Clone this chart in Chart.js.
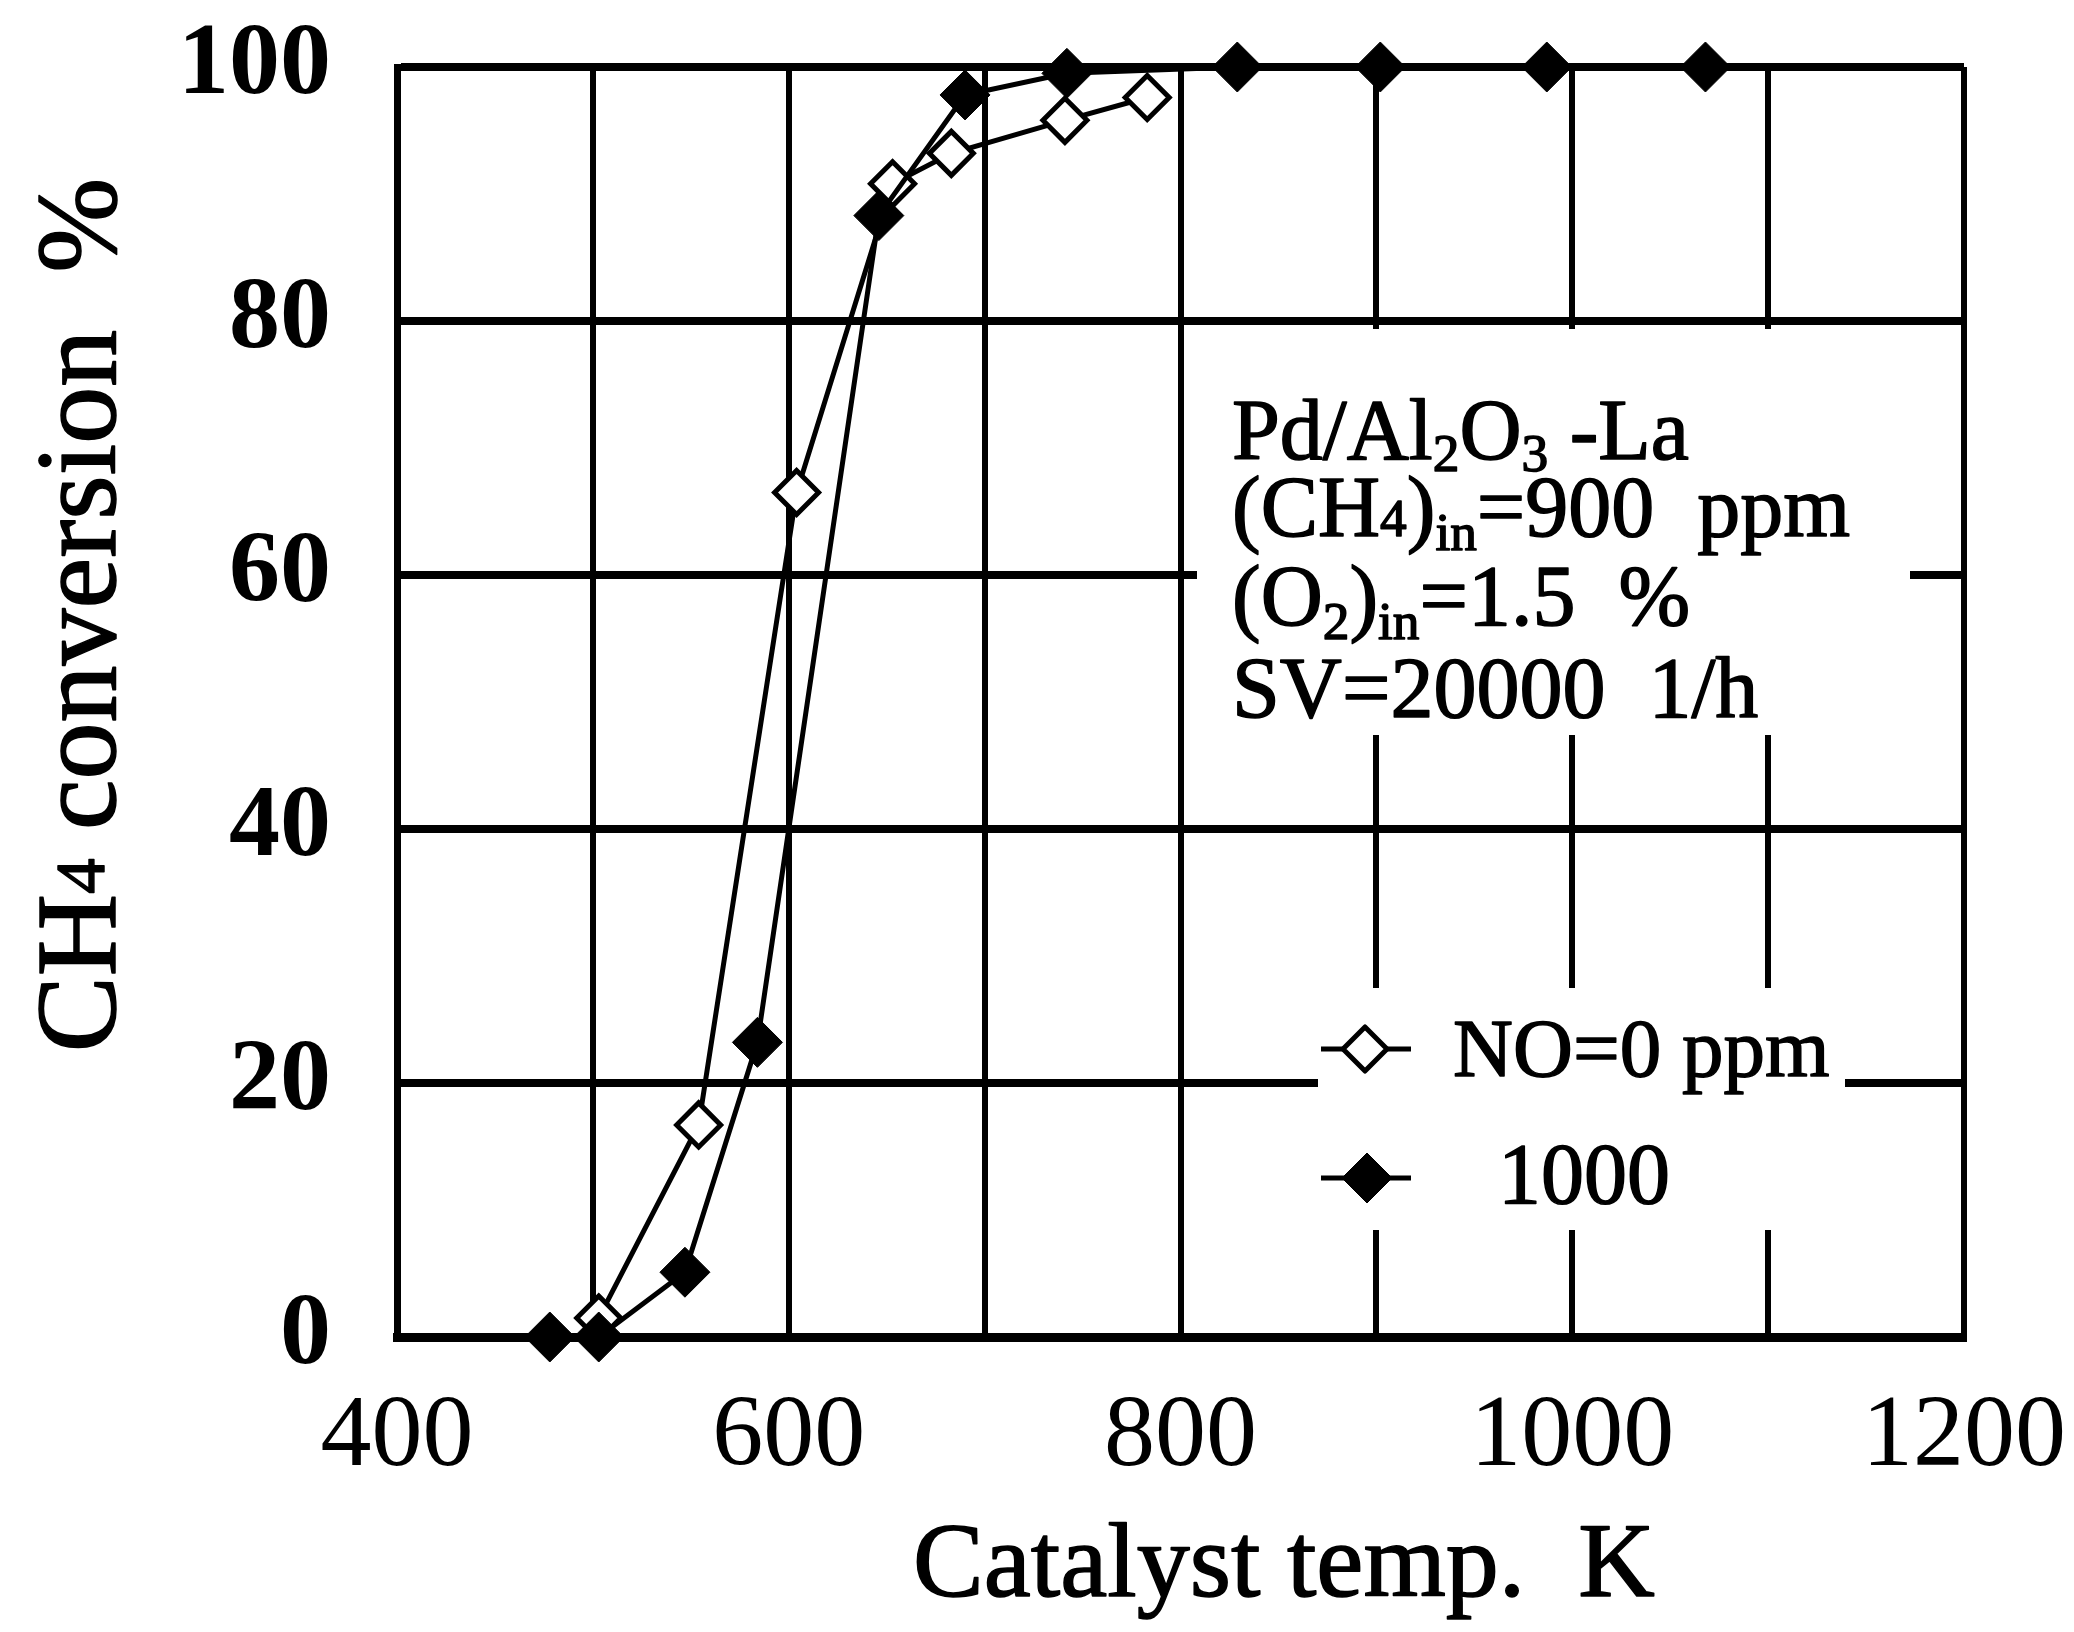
<!DOCTYPE html>
<html>
<head>
<meta charset="utf-8">
<script src="https://cdn.jsdelivr.net/npm/chart.js@4/dist/chart.umd.min.js"></script>
<style>
    html, body { margin: 0; padding: 0; background: #fff; }
    #contenedor { width: 2074px; height: 1632px; }
</style>
</head>
<body>
<div id="contenedor"><canvas id="grafica"></canvas></div>
<script>
// NO = 0 ppm (open diamonds)
const tempSinNO = [503, 554, 604, 653, 683, 741, 783];
const convSinNO = [1.5, 16.7, 66.5, 90.8, 93.2, 95.8, 97.6];

// NO = 1000 ppm (filled diamonds)
const tempConNO = [478, 503, 547, 584, 646, 690, 742, 829, 902, 987, 1068];
const convConNO = [0, 0, 5.1, 23.2, 88.3, 97.8, 99.5, 100, 100, 100, 100];

const ticksX = [400, 600, 800, 1000, 1200];
const ticksY = [0, 20, 40, 60, 80, 100];

const etiquetas = ["NO=0 ppm", "1000"];

const fuente = "\"Liberation Serif\", \"DejaVu Serif\", serif";

function puntos(xs, ys) {
    return xs.map((x, i) => ({ x: x, y: ys[i] }));
}

function textoRico(ctx, partes, x, y, size) {
    let cursor = x;
    partes.forEach((parte) => {
        const escala = parte.sub ? 0.62 : 1;
        ctx.font = (size * escala) + "px " + fuente;
        ctx.strokeText(parte.t, cursor, y + (parte.dy || 0) * size);
        ctx.fillText(parte.t, cursor, y + (parte.dy || 0) * size);
        cursor += ctx.measureText(parte.t).width;
    });
    return cursor - x;
}

function anchoRico(ctx, partes, size) {
    let ancho = 0;
    partes.forEach((parte) => {
        const escala = parte.sub ? 0.62 : 1;
        ctx.font = (size * escala) + "px " + fuente;
        ancho += ctx.measureText(parte.t).width;
    });
    return ancho;
}

function rombo(ctx, x, y, r, relleno, grosor) {
    ctx.beginPath();
    ctx.moveTo(x - r, y);
    ctx.lineTo(x, y - r);
    ctx.lineTo(x + r, y);
    ctx.lineTo(x, y + r);
    ctx.closePath();
    ctx.fillStyle = relleno;
    ctx.fill();
    ctx.lineWidth = grosor;
    ctx.strokeStyle = "#000";
    ctx.stroke();
}

const anotaciones = {
    id: "anotaciones",
    beforeDatasetsDraw(chart) {
        const { ctx, chartArea } = chart;
        const l = chartArea.left;
        const t = chartArea.top;
        ctx.save();
        ctx.fillStyle = "#fff";
        // white box behind the conditions text
        ctx.fillRect(l + 800, t + 262, 713, 406);
        // white box behind the legend
        ctx.fillRect(l + 921, t + 921, 527, 242);
        ctx.restore();
    },
    afterDraw(chart) {
        const { ctx, chartArea } = chart;
        const l = chartArea.left;
        const t = chartArea.top;
        const b = chartArea.bottom;
        ctx.save();
        ctx.fillStyle = "#000";
        ctx.strokeStyle = "#000";
        ctx.lineWidth = 1.5;
        ctx.lineJoin = "round";
        ctx.textBaseline = "alphabetic";
        ctx.textAlign = "left";

        const tam = 86;
        const lineas = [
            [{ t: "Pd/Al" }, { t: "2", sub: true, dy: 0.14 }, { t: "O" }, { t: "3", sub: true, dy: 0.14 }, { t: " -La" }],
            [{ t: "(CH" }, { t: "4", sub: true }, { t: ")" }, { t: "in", sub: true, dy: 0.16 }, { t: "=900  ppm" }],
            [{ t: "(O" }, { t: "2", sub: true, dy: 0.16 }, { t: ")" }, { t: "in", sub: true, dy: 0.16 }, { t: "=1.5  %" }],
            [{ t: "SV=20000  1/h" }]
        ];
        const baseLineas = [392, 469, 558, 650];
        lineas.forEach((linea, i) => {
            textoRico(ctx, linea, l + 835, t + baseLineas[i], tam);
        });

        // legend
        const filas = [t + 982, t + 1111];
        ctx.lineWidth = 5;
        filas.forEach((fy) => {
            ctx.beginPath();
            ctx.moveTo(l + 924, fy);
            ctx.lineTo(l + 1014, fy);
            ctx.stroke();
        });
        rombo(ctx, l + 968, filas[0], 22, "#fff", 5);
        rombo(ctx, l + 970, filas[1], 25, "#000", 1);
        ctx.fillStyle = "#000";
        ctx.lineWidth = 1.5;
        textoRico(ctx, [{ t: etiquetas[0] }], l + 1056, filas[0] + 27, 83);
        textoRico(ctx, [{ t: etiquetas[1] }], l + 1101, filas[1] + 25, 86);

        // x axis title
        textoRico(ctx, [{ t: "Catalyst temp.  K" }], l + 516, b + 259, 106);

        // y axis title, rotated
        const partesY = [{ t: "CH" }, { t: "4", sub: true, dy: -0.1 }, { t: " conversion  %" }];
        const tamY = 114;
        const anchoY = anchoRico(ctx, partesY, tamY);
        ctx.translate(115, 615);
        ctx.rotate(-Math.PI / 2);
        textoRico(ctx, partesY, -anchoY / 2, 0, tamY);
        ctx.restore();
    }
};

const ctxGrafica = document.getElementById("grafica");
new Chart(ctxGrafica, {
    type: "line",
    data: {
        datasets: [
            {
                label: etiquetas[1],
                data: puntos(tempConNO, convConNO),
                borderColor: "#000",
                borderWidth: 5,
                pointStyle: "rectRot",
                pointRadius: 25,
                pointBackgroundColor: "#000",
                pointBorderColor: "#000",
                pointBorderWidth: 1,
                tension: 0,
                clip: false,
                order: 0
            },
            {
                label: etiquetas[0],
                data: puntos(tempSinNO, convSinNO),
                borderColor: "#000",
                borderWidth: 5,
                pointStyle: "rectRot",
                pointRadius: 22,
                pointBackgroundColor: "#fff",
                pointBorderColor: "#000",
                pointBorderWidth: 5,
                tension: 0,
                clip: false,
                order: 1
            }
        ]
    },
    options: {
        responsive: true,
        maintainAspectRatio: false,
        animation: false,
        devicePixelRatio: 1,
        layout: {
            padding: { top: 67, right: 110, bottom: 0, left: 0 }
        },
        plugins: {
            legend: { display: false },
            tooltip: { enabled: false }
        },
        scales: {
            x: {
                type: "linear",
                min: 400,
                max: 1200,
                afterFit: (escala) => {
                    escala.height = 295;
                    escala.paddingLeft = 0;
                    escala.paddingRight = 0;
                },
                afterBuildTicks: (escala) => {
                    const marcas = [];
                    for (let v = 400; v <= 1200; v += 100) {
                        marcas.push({ value: v });
                    }
                    escala.ticks = marcas;
                },
                grid: {
                    color: "#000",
                    lineWidth: 6,
                    drawTicks: false
                },
                border: { color: "#000", width: 9 },
                ticks: {
                    autoSkip: false,
                    maxRotation: 0,
                    padding: 40,
                    color: "#000",
                    font: { family: fuente, size: 102 },
                    callback: (valor) => ticksX.includes(valor) ? String(valor) : ""
                }
            },
            y: {
                min: 0,
                max: 100,
                afterFit: (escala) => {
                    escala.width = 397;
                    escala.paddingTop = 0;
                    escala.paddingBottom = 0;
                },
                afterBuildTicks: (escala) => {
                    escala.ticks = ticksY.map((v) => ({ value: v }));
                },
                grid: {
                    color: "#000",
                    lineWidth: 8,
                    drawTicks: false
                },
                border: { color: "#000", width: 7 },
                ticks: {
                    padding: 66,
                    color: "#000",
                    font: { family: fuente, size: 102, weight: "bold" }
                }
            }
        }
    },
    plugins: [anotaciones]
});
</script>
</body>
</html>
